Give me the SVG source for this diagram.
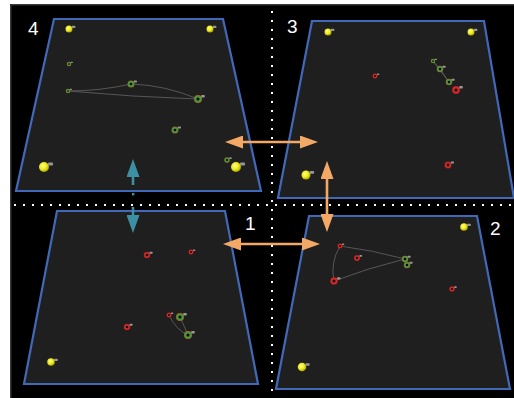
<svg xmlns="http://www.w3.org/2000/svg" xmlns:xlink="http://www.w3.org/1999/xlink" width="514" height="398" viewBox="0 0 514 398">
  <style>
    .field { fill: #1f1f1f; stroke: #4069b8; stroke-width: 2.2; stroke-linejoin: miter; }
    .num { font-family: "Liberation Sans", Arial, sans-serif; font-size: 19px; fill: #ffffff; }
    .track { fill: none; stroke: #5c5c5c; stroke-width: 0.9; }
    .dots { stroke: #ffffff; stroke-width: 2; stroke-dasharray: 2 7; }
    .tag { fill: #969696; }
    .link-o { fill: none; stroke: #f4a866; stroke-width: 2.6; marker-start: url(#head-o); marker-end: url(#head-o); }
    .link-t { fill: none; stroke: #3d8fa3; stroke-width: 2.6; }
  </style>
  <defs>
    <radialGradient id="ballGrad" cx="0.4" cy="0.38" r="0.65">
      <stop offset="0" stop-color="#ffff8a"/>
      <stop offset="0.55" stop-color="#eeea1c"/>
      <stop offset="1" stop-color="#a9a300"/>
    </radialGradient>
    <marker id="head-o" viewBox="0 0 18 13" refX="1" refY="6.5" markerWidth="18" markerHeight="13" markerUnits="userSpaceOnUse" orient="auto-start-reverse">
      <path d="M0,0 L18,6.5 L0,13 z" fill="#f4a866"/>
    </marker>
    <marker id="head-t" viewBox="0 0 18 13" refX="1" refY="6.5" markerWidth="18" markerHeight="13" markerUnits="userSpaceOnUse" orient="auto-start-reverse">
      <path d="M0,0 L18,6.5 L0,13 z" fill="#3d8fa3"/>
    </marker>
    <!-- tracked objects, drawn at radius 5 and scaled per use -->
    <g id="ball">
      <circle r="5" fill="url(#ballGrad)"/>
      <rect class="tag" x="4" y="-4.5" width="5" height="3" rx="0.8"/>
    </g>
    <g id="ring-g">
      <circle r="5" fill="#b0602c"/>
      <circle r="4.2" fill="#3f9d36"/>
      <circle r="1.9" fill="#050505"/>
      <rect class="tag" x="4" y="-5" width="4.5" height="3" rx="0.8"/>
    </g>
    <g id="ring-r">
      <circle r="5" fill="#a81e20"/>
      <circle r="4.3" fill="#d42a2a"/>
      <circle r="2" fill="#120505"/>
      <rect class="tag" x="4" y="-5" width="4.5" height="3" rx="0.8"/>
    </g>
  </defs>

  <!-- backdrop -->
  <rect x="0" y="0" width="514" height="398" fill="#ffffff"/>
  <rect x="10" y="4" width="504" height="394" fill="#000000"/>
  <path d="M10.8,398 V4.8 H514" fill="none" stroke="#555555" stroke-width="1"/>

  <!-- quadrant separators -->
  <line class="dots" x1="14" y1="205" x2="514" y2="205"/>
  <line class="dots" x1="272" y1="11" x2="272" y2="398"/>

  <g id="panel-4">
    <polygon class="field" points="54,19 223,19 261,191 16,191"/>
    <text class="num" x="28" y="35">4</text>
    <path class="track" d="M68,91 Q100,91 131,84 Q165,85 198,99 Q133,97 68,91"/>
    <use href="#ball" transform="translate(69,29) scale(0.7)"/>
    <use href="#ball" transform="translate(210,29) scale(0.7)"/>
    <use href="#ring-g" transform="translate(69,64) scale(0.45)"/>
    <use href="#ring-g" transform="translate(68,91) scale(0.45)"/>
    <use href="#ring-g" transform="translate(131,84) scale(0.7)"/>
    <use href="#ring-g" transform="translate(198,99) scale(0.8)"/>
    <use href="#ring-g" transform="translate(175,130) scale(0.7)"/>
    <use href="#ring-g" transform="translate(227,160) scale(0.55)"/>
    <use href="#ball" transform="translate(44,167) scale(1)"/>
    <use href="#ball" transform="translate(236,167) scale(1)"/>
  </g>

  <g id="panel-3">
    <polygon class="field" points="312,21 484,21 514,198 278,198"/>
    <text class="num" x="287" y="33">3</text>
    <path class="track" d="M433,61 L440,69 L449,82 M433,61 L449,82"/>
    <use href="#ball" transform="translate(328,32) scale(0.7)"/>
    <use href="#ball" transform="translate(471,32) scale(0.7)"/>
    <use href="#ring-r" transform="translate(375,76) scale(0.5)"/>
    <use href="#ring-g" transform="translate(433,61) scale(0.45)"/>
    <use href="#ring-g" transform="translate(440,69) scale(0.65)"/>
    <use href="#ring-g" transform="translate(449,82) scale(0.65)"/>
    <use href="#ring-r" transform="translate(456,90) scale(0.8)"/>
    <use href="#ring-r" transform="translate(448,165) scale(0.7)"/>
    <use href="#ball" transform="translate(306,175) scale(0.9)"/>
  </g>

  <g id="panel-1">
    <polygon class="field" points="57,211 225,211 258,384 24,384"/>
    <text class="num" x="245" y="230">1</text>
    <path class="track" d="M169,315 Q176,330 188,335 M180,317 L188,335"/>
    <use href="#ring-r" transform="translate(147,255) scale(0.65)"/>
    <use href="#ring-r" transform="translate(191,252) scale(0.5)"/>
    <use href="#ring-r" transform="translate(169,315) scale(0.5)"/>
    <use href="#ring-g" transform="translate(180,317) scale(0.8)"/>
    <use href="#ring-g" transform="translate(188,335) scale(0.8)"/>
    <use href="#ring-r" transform="translate(127,327) scale(0.65)"/>
    <use href="#ball" transform="translate(51,362) scale(0.75)"/>
  </g>

  <g id="panel-2">
    <polygon class="field" points="309,216 477,216 510,389 276,389"/>
    <text class="num" x="490" y="235">2</text>
    <path class="track" d="M340,246 Q372,250 405,259 Q368,268 334,281 Q330,263 340,246"/>
    <use href="#ball" transform="translate(464,227) scale(0.75)"/>
    <use href="#ring-r" transform="translate(340,246) scale(0.5)"/>
    <use href="#ring-r" transform="translate(357,258) scale(0.6)"/>
    <use href="#ring-g" transform="translate(405,259) scale(0.65)"/>
    <use href="#ring-g" transform="translate(407,265) scale(0.65)"/>
    <use href="#ring-r" transform="translate(334,281) scale(0.75)"/>
    <use href="#ring-r" transform="translate(452,289) scale(0.55)"/>
    <use href="#ball" transform="translate(302,367) scale(0.85)"/>
  </g>

  <g id="connectors">
    <line class="link-o" x1="242" y1="142" x2="301" y2="142"/>
    <line class="link-o" x1="327" y1="178" x2="327" y2="215"/>
    <line class="link-o" x1="240" y1="244" x2="303" y2="244"/>
    <line class="link-t" x1="133" y1="176" x2="133" y2="185" marker-start="url(#head-t)"/>
    <rect x="132" y="193" width="2.4" height="2.4" fill="#3d8fa3"/>
    <line class="link-t" x1="133" y1="207" x2="133" y2="216" marker-end="url(#head-t)"/>
  </g>
</svg>
